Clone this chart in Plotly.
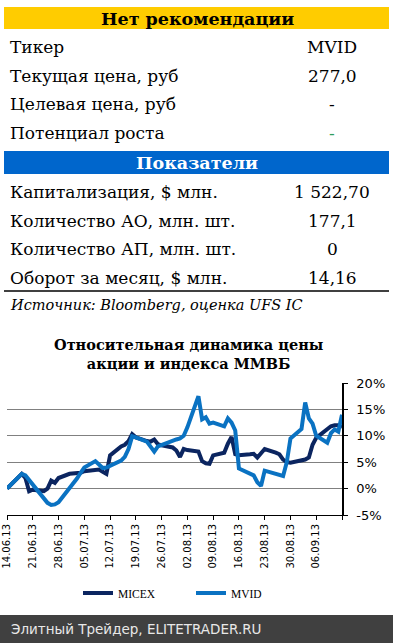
import plotly.graph_objects as go

W, H = 393, 643

# ---------------- data ----------------
dates = [
    "2013-06-14",
    "2013-06-17", "2013-06-18", "2013-06-19", "2013-06-20", "2013-06-21",
    "2013-06-24", "2013-06-25", "2013-06-26", "2013-06-27", "2013-06-28",
    "2013-07-01", "2013-07-02", "2013-07-03", "2013-07-04", "2013-07-05",
    "2013-07-08", "2013-07-09", "2013-07-10", "2013-07-11", "2013-07-12",
    "2013-07-15", "2013-07-16", "2013-07-17", "2013-07-18", "2013-07-19",
    "2013-07-22", "2013-07-23", "2013-07-24", "2013-07-25", "2013-07-26",
    "2013-07-29", "2013-07-30", "2013-07-31", "2013-08-01", "2013-08-02",
    "2013-08-05", "2013-08-06", "2013-08-07", "2013-08-08", "2013-08-09",
    "2013-08-12", "2013-08-13", "2013-08-14", "2013-08-15", "2013-08-16",
    "2013-08-19", "2013-08-20", "2013-08-21", "2013-08-22", "2013-08-23",
    "2013-08-26", "2013-08-27", "2013-08-28", "2013-08-29", "2013-08-30",
    "2013-09-02", "2013-09-03", "2013-09-04", "2013-09-05", "2013-09-06",
    "2013-09-09", "2013-09-10", "2013-09-11", "2013-09-12", "2013-09-13",
]

micex = [
    0.0,
    2.0, 2.8, 2.0, -0.5, -0.2,
    -0.5, 0.0, 1.5, 1.1, 2.0,
    2.8, 2.9, 3.0, 3.0, 3.3,
    3.4, 3.6, 3.2, 2.8, 6.3,
    8.0, 8.3, 9.0, 10.3, 9.7,
    9.0, 8.9, 9.3, 8.4, 8.2,
    7.8, 7.2, 6.0, 7.5, 7.3,
    7.0, 5.2, 4.8, 4.7, 6.3,
    6.8, 8.5, 9.8, 6.5, 6.3,
    6.5, 6.6, 5.9, 6.8, 7.5,
    6.8, 6.5, 5.5, 5.0, 4.9,
    5.3, 5.5, 5.9, 8.3, 9.6,
    11.3, 11.8, 12.0, 12.0, 11.6,
]

mvid = [
    0.0,
    2.2, 2.8, 2.5, 1.6, 0.8,
    -1.8, -2.7, -3.1, -3.0, -2.6,
    0.0, 1.0, 1.9, 3.0, 4.0,
    5.2, 4.5, 3.9, 4.0, 4.3,
    5.3, 6.0, 7.5, 9.9, 9.7,
    8.9, 8.0, 7.0, 8.0, 8.3,
    9.2, 9.3, 9.5, 10.0, 11.6,
    17.5, 13.1, 13.5, 12.3, 12.5,
    11.8, 13.3, 12.5, 11.0, 3.8,
    2.8, 2.5, 1.2, 0.5, 3.4,
    2.8, 2.5, 2.4, 5.0, 9.5,
    11.3, 16.3, 13.3, 12.3, 10.0,
    8.7, 10.5, 11.2, 10.8, 14.0,
]

tick_dates = [
    "2013-06-14", "2013-06-21", "2013-06-28", "2013-07-05", "2013-07-12",
    "2013-07-19", "2013-07-26", "2013-08-02", "2013-08-09", "2013-08-16",
    "2013-08-23", "2013-08-30", "2013-09-06", "2013-09-13",
]
tick_labels = [
    "14.06.13", "21.06.13", "28.06.13", "05.07.13", "12.07.13",
    "19.07.13", "26.07.13", "02.08.13", "09.08.13", "16.08.13",
    "23.08.13", "30.08.13", "06.09.13", "",
]
y_ticks = [-5, 0, 5, 10, 15, 20]
y_labels = ["-5%", "0%", "5%", "10%", "15%", "20%"]

rec_rows = [("Тикер", "MVID"), ("Текущая цена, руб", "277,0"),
            ("Целевая цена, руб", "-"), ("Потенциал роста", "-")]
ind_rows = [("Капитализация, $ млн.", "1 522,70"), ("Количество АО, млн. шт.", "177,1"),
            ("Количество АП, млн. шт.", "0"), ("Оборот за месяц, $ млн.", "14,16")]

# ---------------- helpers ----------------
def px(x):
    return x / W

def py(y):
    return 1 - y / H

SERIF = "DejaVu Serif"
SANS = "DejaVu Sans"

fig = go.Figure()
fig.add_trace(go.Scatter(x=dates, y=micex, mode="lines", name="MICEX",
                         line=dict(color="#0B2560", width=4)))
fig.add_trace(go.Scatter(x=dates, y=mvid, mode="lines", name="MVID",
                         line=dict(color="#0A72C2", width=4)))

shapes = []
annotations = []

# header bars
shapes.append(dict(type="rect", xref="paper", yref="paper", x0=px(4), x1=px(389),
                   y0=py(29), y1=py(7), fillcolor="#FFCC00", line=dict(width=0), layer="below"))
shapes.append(dict(type="rect", xref="paper", yref="paper", x0=px(4), x1=px(389),
                   y0=py(174), y1=py(151), fillcolor="#0066CC", line=dict(width=0), layer="below"))
shapes.append(dict(type="line", xref="paper", yref="paper", x0=px(4), x1=px(389),
                   y0=py(291), y1=py(291), line=dict(color="#000000", width=1.5)))
# footer bar
shapes.append(dict(type="rect", xref="paper", yref="paper", x0=0, x1=1,
                   y0=0, y1=py(615), fillcolor="#404040", line=dict(width=0), layer="below"))

def ann(text, x, y, size, color="#000000", family=SERIF, xanchor="left", **kw):
    annotations.append(dict(text=text, x=px(x), y=py(y), xref="paper", yref="paper",
                            xanchor=xanchor, yanchor="middle", showarrow=False,
                            font=dict(family=family, size=size, color=color), **kw))

ann("<b>Нет рекомендации</b>", 197, 19, 17.5, xanchor="center")
for i, (lab, val) in enumerate(rec_rows):
    y = 47 + i * 28.7
    ann(lab, 8, y, 17)
    col = "#2E9E5E" if lab.startswith("Потенциал") else "#000000"
    ann(val, 332, y, 17, color=col, xanchor="center")

ann("<b>Показатели</b>", 197, 163, 17.5, color="#FFFFFF", xanchor="center")
for i, (lab, val) in enumerate(ind_rows):
    y = 192 + i * 28.5
    ann(lab, 8, y, 17)
    ann(val, 332, y, 17, xanchor="center")

ann("<i>Источник: Bloomberg, оценка UFS IC</i>", 8, 305, 14.5)

ann("<b>Относительная динамика цены<br>акции и индекса ММВБ</b>", 188, 354, 14.5,
    xanchor="center")

ann("Элитный Трейдер, ELITETRADER.RU", 9, 629, 13.5, color="#E8E8E8", family=SANS)

fig.update_layout(
    width=W, height=H,
    margin=dict(l=0, r=0, t=0, b=0),
    template="none",
    paper_bgcolor="#FFFFFF",
    plot_bgcolor="#FFFFFF",
    shapes=shapes,
    annotations=annotations,
    showlegend=True,
    legend=dict(orientation="h", x=px(78), y=py(593), xanchor="left", yanchor="middle",
                font=dict(family="Liberation Serif", size=11.5, color="#000000"),
                bgcolor="rgba(0,0,0,0)", entrywidth=68, entrywidthmode="pixels",
                itemclick=False, itemdoubleclick=False),
    xaxis=dict(
        domain=[px(7), px(342)],
        type="date",
        range=["2013-06-14", "2013-09-13"],
        tickvals=tick_dates, ticktext=tick_labels,
        tickangle=-90,
        tickfont=dict(family=SANS, size=10, color="#000000"),
        ticks="outside", ticklen=4, tickcolor="#000000", tickwidth=1,
        showline=True, linecolor="#000000", linewidth=1,
        showgrid=False, zeroline=False, automargin=False, fixedrange=True,
    ),
    yaxis=dict(
        domain=[py(515), py(383)],
        side="right",
        range=[-5, 20],
        tickvals=y_ticks, ticktext=y_labels,
        tickfont=dict(family=SANS, size=13, color="#000000"),
        ticks="outside", ticklen=4, tickcolor="#000000", tickwidth=1,
        ticklabelstandoff=6,
        showline=True, linecolor="#000000", linewidth=1.5,
        showgrid=True, gridcolor="#808080", gridwidth=1,
        zeroline=False, automargin=False, fixedrange=True,
    ),
)

fig.write_html("out.html", config={"displayModeBar": False},
               post_script="document.body.style.margin='0';")
